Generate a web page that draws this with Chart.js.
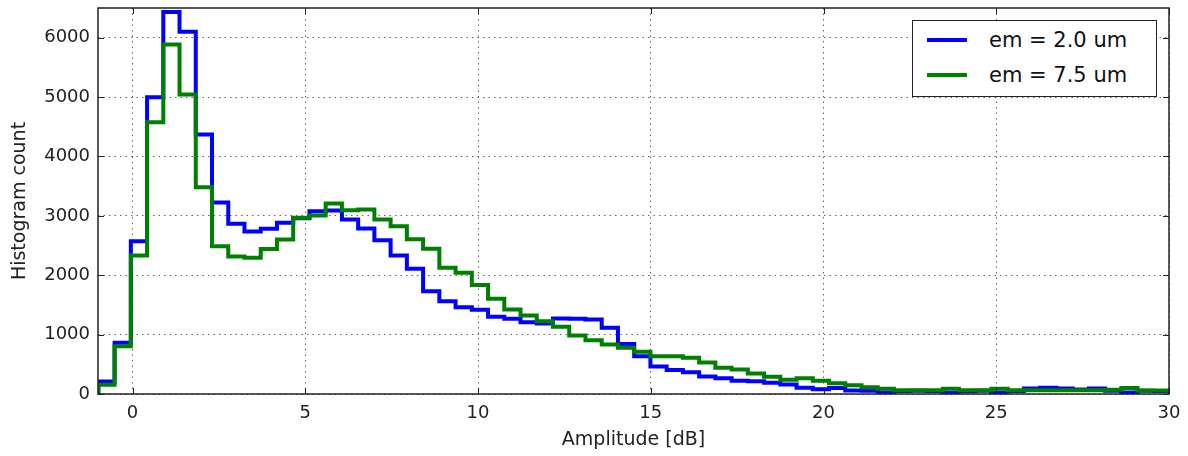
<!DOCTYPE html>
<html>
<head>
<meta charset="utf-8">
<script src="https://cdn.jsdelivr.net/npm/chart.js@4.4.1/dist/chart.umd.min.js"></script>
<style>
  html, body { margin:0; padding:0; background:#fff; }
  #wrap { position:relative; width:1188px; height:456px; }
  #legend {
    position:absolute; left:912px; top:20px; width:243px; height:75px;
    border:1.5px solid #222; background:#fff;
    font-family:'DejaVu Sans', sans-serif; font-size:21px; color:#111;
  }
  #legend .row { position:absolute; left:0; height:30px; display:flex; align-items:center; }
  #legend .sw { width:40px; height:4px; margin-left:14px; margin-right:22px; }
</style>
</head>
<body>
<div id="wrap">
  <canvas id="hist" width="1188" height="456"></canvas>
  <div id="legend"></div>
</div>
<script>
// histogram bins (dB): left edge of the first bin and bin width
const BIN_START = -0.99;
const BIN_WIDTH = 0.47;

// counts per bin
const COUNTS_2_0 = [210, 862, 2572, 4997, 6434, 6098, 4369, 3225, 2868, 2736,
  2781, 2882, 2960, 3078, 3089, 2938, 2786, 2589, 2332, 2110,
  1731, 1562, 1460, 1417, 1300, 1266, 1209, 1187, 1271, 1266,
  1254, 1117, 840, 636, 463, 405, 367, 295, 264, 222,
  215, 189, 160, 104, 80, 100, 59, 55, 25, 50,
  55, 50, 20, 45, 55, 20, 50, 93, 104, 93,
  76, 93, 55, 25, 55, 50];
const COUNTS_7_5 = [155, 805, 2332, 4576, 5884, 5042, 3481, 2488, 2315, 2293,
  2440, 2601, 2966, 3005, 3207, 3094, 3106, 2938, 2825, 2607,
  2447, 2125, 2040, 1835, 1603, 1423, 1322, 1226, 1131, 985,
  906, 833, 778, 710, 636, 636, 609, 530, 441, 412,
  345, 290, 238, 264, 222, 180, 148, 114, 88, 64,
  64, 64, 88, 64, 64, 88, 64, 64, 64, 64,
  64, 64, 70, 100, 60, 60];

const SERIES_LABELS = ['em = 2.0 um', 'em = 7.5 um'];
const SERIES_COLORS = ['#0000ff', '#008000'];

const X_TICKS = [0, 5, 10, 15, 20, 25, 30];
const Y_TICKS = [0, 1000, 2000, 3000, 4000, 5000, 6000];

const FONT = "'DejaVu Sans', sans-serif";
const INK = '#222';

// step outline like histtype='step'
function stepPoints(counts){
  const pts = [{x:BIN_START, y:0}];
  counts.forEach((c,i) => pts.push({x:BIN_START + i*BIN_WIDTH, y:c}));
  pts.push({x:BIN_START + counts.length*BIN_WIDTH, y:counts[counts.length-1]});
  return pts;
}

// inward tick marks on all four sides + the box frame
const frame = {
  id:'frame',
  afterDatasetsDraw(chart){
    const {ctx, chartArea:a, scales} = chart;
    const len = 6;
    ctx.save();
    ctx.strokeStyle = INK;
    ctx.lineWidth = 1;
    ctx.beginPath();
    X_TICKS.forEach(v => {
      const px = Math.round(scales.x.getPixelForValue(v)) + 0.5;
      ctx.moveTo(px, a.bottom); ctx.lineTo(px, a.bottom - len);
      ctx.moveTo(px, a.top); ctx.lineTo(px, a.top + len);
    });
    Y_TICKS.forEach(v => {
      const py = Math.round(scales.y.getPixelForValue(v)) + 0.5;
      ctx.moveTo(a.left, py); ctx.lineTo(a.left + len, py);
      ctx.moveTo(a.right, py); ctx.lineTo(a.right - len, py);
    });
    ctx.stroke();
    ctx.lineWidth = 1.5;
    ctx.strokeRect(a.left, a.top, a.right - a.left, a.bottom - a.top);
    ctx.restore();
  }
};

const datasets = [COUNTS_2_0, COUNTS_7_5].map((counts, i) => ({
  label: SERIES_LABELS[i],
  data: stepPoints(counts),
  borderColor: SERIES_COLORS[i],
  borderWidth: 4,
  stepped: 'before',
  pointRadius: 0,
  fill: false,
  order: SERIES_LABELS.length - i   // later series drawn on top
}));

const gridStyle = { color: 'rgba(0,0,0,0.6)', lineWidth: 1, drawTicks: false };
const dotted = { display: false, dash: [1.5, 4] };

new Chart(document.getElementById('hist').getContext('2d'), {
  type: 'line',
  data: { datasets },
  options: {
    responsive: false,
    animation: false,
    layout: { padding: { top: 8, right: 19, bottom: 0, left: 0 } },
    plugins: { legend: { display: false }, tooltip: { enabled: false } },
    scales: {
      x: {
        type: 'linear', min: -1, max: 30,
        afterBuildTicks: s => { s.ticks = X_TICKS.map(v => ({value:v})); },
        afterFit: s => { s.height = 62; s.paddingLeft = 0; s.paddingRight = 0; },
        grid: gridStyle,
        border: dotted,
        ticks: { padding: 9, color: INK, font: { family: FONT, size: 18 },
                 callback: v => String(v) },
        title: { display: true, text: 'Amplitude [dB]', color: INK,
                 font: { family: FONT, size: 19 }, padding: { top: 0, bottom: 5 } }
      },
      y: {
        min: 0, max: 6500,
        afterBuildTicks: s => { s.ticks = Y_TICKS.map(v => ({value:v})); },
        afterFit: s => { s.width = 98; s.paddingTop = 0; s.paddingBottom = 0; },
        grid: gridStyle,
        border: dotted,
        ticks: { padding: 8, color: INK, font: { family: FONT, size: 18 },
                 callback: v => String(v) },
        title: { display: true, text: 'Histogram count', color: INK,
                 font: { family: FONT, size: 19 }, padding: { top: 9, bottom: 0 } }
      }
    }
  },
  plugins: [frame]
});

// legend box inside the plot, upper right
const leg = document.getElementById('legend');
SERIES_LABELS.forEach((lab, i) => {
  const row = document.createElement('div');
  row.className = 'row';
  row.style.top = (4 + i*35) + 'px';
  row.innerHTML = `<span class="sw" style="background:${SERIES_COLORS[i]}"></span><span>${lab}</span>`;
  leg.appendChild(row);
});
</script>
</body>
</html>
